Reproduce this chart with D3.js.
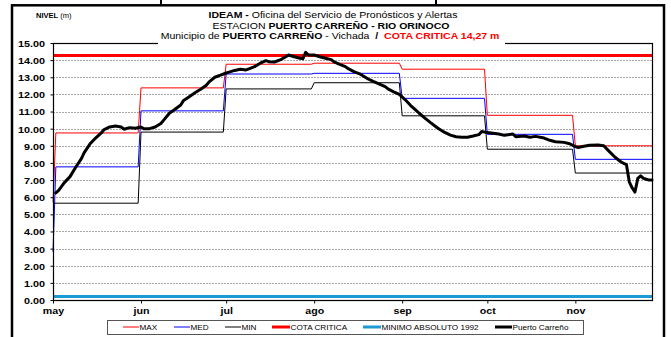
<!DOCTYPE html>
<html>
<head>
<meta charset="utf-8">
<script src="https://cdn.jsdelivr.net/npm/d3@7"></script>
<style>
  html, body { margin: 0; padding: 0; background: #fff; }
  svg { display: block; font-family: "Liberation Sans", Arial, Helvetica, sans-serif; }
  text { white-space: pre; }
</style>
</head>
<body>
<svg id="chart" width="671" height="337"></svg>
<script>
// ---- data -------------------------------------------------------------
const monthLabels = ["may", "jun", "jul", "ago", "sep", "oct", "nov"];
const monthStarts = ["2015-05-01", "2015-06-01", "2015-07-01", "2015-08-01",
                     "2015-09-01", "2015-10-01", "2015-11-01"];
const periodEnd = "2015-11-28";

// monthly reference levels (m), one value per month May..Nov
const maxLevels = [9.75, 12.38, 13.76, 13.82, 13.47, 10.78, 9.00];
const medLevels = [7.77, 11.04, 13.19, 13.23, 11.77, 9.67, 8.21];
const minLevels = [5.65, 9.80, 12.32, 12.68, 10.75, 8.80, 7.41];
// closing April values the MAX and MED curves rise from
const maxPrior = 5.7;
const medPrior = 2.8;

const cotaCritica = 14.27;
const minimoAbsoluto1992 = 0.20;

const yTickValues = [0, 1, 2, 3, 4, 5, 6, 7, 8, 9, 10, 11, 12, 13, 14, 15];

// daily gauge readings, Puerto Carreño
const levelDates = [
  "05-02","05-03","05-05","05-07","05-09","05-11","05-12","05-14","05-16",
  "05-18","05-19","05-21","05-23","05-25","05-26","05-28","05-30",
  "06-01","06-02","06-04","06-06","06-08","06-09","06-11","06-13","06-15","06-16",
  "06-18","06-20","06-22","06-24","06-25","06-27","06-29",
  "07-01","07-02","07-04","07-06","07-08","07-09","07-11","07-13","07-15","07-16",
  "07-18","07-20","07-22","07-23","07-25","07-27","07-28","07-29","07-30",
  "08-01","08-03","08-05","08-07","08-08","08-10","08-12","08-13","08-15","08-17",
  "08-19","08-20","08-22","08-24","08-26","08-27","08-29","08-31",
  "09-02","09-04","09-06","09-07","09-09","09-11","09-13","09-14","09-16","09-18",
  "09-20","09-22","09-24","09-26","09-28","09-29",
  "10-01","10-03","10-05","10-07","10-10","10-11","10-14","10-16","10-18","10-21",
  "10-23","10-25","10-28","10-30",
  "11-01","11-02","11-04","11-06","11-09","11-11","11-13","11-15","11-17","11-18",
  "11-19","11-20","11-21","11-22","11-23","11-24","11-25","11-26","11-27","11-28"
];
const levelValues = [
  6.25, 6.40, 6.85, 7.20, 7.75, 8.25, 8.60, 9.10, 9.45,
  9.75, 9.95, 10.10, 10.15, 10.10, 9.97, 10.06, 10.02,
  10.10, 10.00, 10.00, 10.10, 10.30, 10.50, 10.90, 11.13, 11.38, 11.65,
  11.87, 12.10, 12.30, 12.53, 12.73, 13.00, 13.12,
  13.25, 13.30, 13.40, 13.47, 13.43, 13.49, 13.62, 13.82, 13.97, 13.91,
  13.89, 14.01, 14.20, 14.30, 14.20, 14.11, 14.08, 14.45, 14.30,
  14.30, 14.20, 14.11, 14.03, 13.90, 13.75, 13.62, 13.50, 13.33, 13.20,
  13.00, 12.90, 12.74, 12.60, 12.45, 12.32, 12.15, 12.00,
  11.70, 11.35, 11.05, 10.90, 10.62, 10.35, 10.10, 9.98, 9.78, 9.62,
  9.53, 9.50, 9.50, 9.57, 9.65, 9.83,
  9.77, 9.73, 9.69, 9.61, 9.69, 9.53, 9.57, 9.50, 9.55, 9.45,
  9.32, 9.24, 9.20, 9.12,
  8.95, 8.90, 8.97, 9.03, 9.05, 9.00, 8.66, 8.33, 8.07, 7.98,
  7.90, 6.90, 6.55, 6.30, 7.10, 7.25, 7.10, 7.05, 7.00, 7.00
];

// ---- layout -------------------------------------------------------------
const plot = { left: 53, right: 652, top: 43, bottom: 300 };
const font = "\"Liberation Sans\", Arial, Helvetica, sans-serif";
const svg = d3.select("#chart");

const parse = d3.utcParse("%Y-%m-%d");
const starts = monthStarts.map(parse);
const endDate = parse(periodEnd);

const x = d3.scaleUtc().domain([starts[0], endDate]).range([plot.left, plot.right]);
const y = d3.scaleLinear().domain([0, 15]).range([plot.bottom, plot.top]);

// outer frame of the figure
svg.append("rect")
  .attr("x", 12).attr("y", 5.3).attr("width", 652).attr("height", 345)
  .attr("fill", "none").attr("stroke", "#000").attr("stroke-width", 2.5);
[161, 436].forEach(px => {
  svg.append("line").attr("x1", px).attr("x2", px).attr("y1", 0).attr("y2", 5)
    .attr("stroke", "#000").attr("stroke-width", 2);
});

// dotted horizontal gridlines
svg.append("g").selectAll("line")
  .data(yTickValues.filter(v => v > 0 && v < 15))
  .join("line")
  .attr("x1", plot.left).attr("x2", plot.right)
  .attr("y1", d => Math.round(y(d)) + 0.5).attr("y2", d => Math.round(y(d)) + 0.5)
  .attr("stroke", "#a8a8a8").attr("stroke-width", 1).attr("stroke-dasharray", "2,1");

// monthly step curves
function stepPoints(levels, prior) {
  const pts = [];
  levels.forEach((v, i) => {
    let first = starts[i];
    if (i === 0 && prior != null) {
      pts.push([starts[0], prior]);
      first = d3.utcDay.offset(starts[0], 1);
    }
    let last = d3.utcDay.offset(d3.utcMonth.offset(starts[i], 1), -1);
    if (last > endDate) last = endDate;
    pts.push([first, v], [last, v]);
  });
  return pts;
}
const line = d3.line().x(d => x(d[0])).y(d => y(d[1]));

const series = [
  { pts: stepPoints(maxLevels, maxPrior), color: "#ff0000", width: 1 },
  { pts: stepPoints(medLevels, medPrior), color: "#0000ff", width: 1 },
  { pts: stepPoints(minLevels, null), color: "#000000", width: 1 }
];
series.forEach(s => {
  svg.append("path").attr("d", line(s.pts))
    .attr("fill", "none").attr("stroke", s.color).attr("stroke-width", s.width);
});

// critical level and 1992 absolute minimum
svg.append("path").attr("d", line([[starts[0], cotaCritica], [endDate, cotaCritica]]))
  .attr("stroke", "#ff0000").attr("stroke-width", 3).attr("fill", "none");
svg.append("path").attr("d", line([[starts[0], minimoAbsoluto1992], [endDate, minimoAbsoluto1992]]))
  .attr("stroke", "#1a9bd3").attr("stroke-width", 3).attr("fill", "none");

// observed levels
const obs = levelDates.map((d, i) => [parse("2015-" + d), levelValues[i]]);
svg.append("path").attr("d", line(obs))
  .attr("fill", "none").attr("stroke", "#000").attr("stroke-width", 3)
  .attr("stroke-linejoin", "round").attr("stroke-linecap", "round");

// plot frame
svg.append("rect")
  .attr("x", plot.left + 0.5).attr("y", plot.top + 0.5)
  .attr("width", plot.right - plot.left).attr("height", plot.bottom - plot.top)
  .attr("fill", "none").attr("stroke", "#000").attr("stroke-width", 1.2);

// axes
const yAxis = svg.append("g").attr("transform", `translate(${plot.left + 0.5},0)`)
  .call(d3.axisLeft(y).tickValues(yTickValues).tickSize(3).tickFormat(d3.format(".2f")));
yAxis.select(".domain").remove();
yAxis.selectAll("line").attr("stroke", "#000");
yAxis.selectAll("text")
  .attr("x", null).attr("dy", null)
  .attr("transform", "translate(-8.5,3.4) scale(1.14,1)")
  .attr("font-family", font).attr("font-size", 9.5).attr("font-weight", "bold").attr("fill", "#000");

const xAxis = svg.append("g").attr("transform", `translate(0,${plot.bottom + 0.5})`)
  .call(d3.axisBottom(x).tickValues(starts).tickSize(3).tickFormat((d, i) => monthLabels[i]));
xAxis.select(".domain").remove();
xAxis.selectAll("line").attr("stroke", "#000");
xAxis.selectAll("text")
  .attr("y", null).attr("dy", null)
  .attr("transform", "translate(0,13.5) scale(1.12,1)")
  .attr("font-family", font).attr("font-size", 9.5).attr("font-weight", "bold").attr("fill", "#000");

// title block (white panel over the frame top)
svg.append("rect").attr("x", 158).attr("y", 7).attr("width", 347).attr("height", 38).attr("fill", "#fff");

function titleLine(xPos, yPos, parts, size) {
  const t = svg.append("text")
    .attr("transform", `translate(${xPos},${yPos}) scale(1.17,1)`)
    .attr("text-anchor", "middle").attr("font-size", size).attr("font-family", font);
  parts.forEach(p => {
    t.append("tspan").text(p[0])
      .attr("font-weight", p[1] ? "bold" : "normal")
      .attr("fill", p[2] || "#000");
  });
}
titleLine(333, 18.3, [["IDEAM -", true], [" Oficina del Servicio de Pronósticos y Alertas", false]], 9);
titleLine(331, 28.6, [["ESTACION ", false], ["PUERTO CARREÑO - RIO ORINOCO", true]], 9);
titleLine(330, 38.8, [["Municipio de ", false], ["PUERTO CARREÑO", true], [" - Vichada  ", false],
                 ["/  ", true], ["COTA CRITICA 14,27 m", true, "#ff0000"]], 9);

// axis caption
const cap = svg.append("text").attr("transform", "translate(36,18) scale(1.08,1)")
  .attr("font-family", font).attr("font-size", 7);
cap.append("tspan").text("NIVEL").attr("font-weight", "bold");
cap.append("tspan").text(" (m)");

// legend
const legendItems = [
  { label: "MAX", color: "#ff0000", width: 1, x0: 123, x1: 139 },
  { label: "MED", color: "#0000ff", width: 1, x0: 174, x1: 190 },
  { label: "MIN", color: "#000000", width: 1, x0: 225, x1: 241 },
  { label: "COTA CRITICA", color: "#ff0000", width: 3, x0: 272, x1: 290 },
  { label: "MINIMO ABSOLUTO 1992", color: "#1a9bd3", width: 3, x0: 363, x1: 381 },
  { label: "Puerto Carreño", color: "#000000", width: 3, x0: 495, x1: 512 }
];
svg.append("rect").attr("x", 107.5).attr("y", 320.5).attr("width", 476).attr("height", 14)
  .attr("fill", "#fff").attr("stroke", "#555").attr("stroke-width", 1);
const lg = svg.append("g");
legendItems.forEach(it => {
  lg.append("line").attr("x1", it.x0).attr("x2", it.x1).attr("y1", 327).attr("y2", 327)
    .attr("stroke", it.color).attr("stroke-width", it.width);
  lg.append("text").attr("transform", `translate(${it.x1 + 0.5},329.5) scale(1.17,1)`)
    .attr("font-family", font).attr("font-size", 7).attr("fill", "#000").text(it.label);
});
</script>
</body>
</html>
